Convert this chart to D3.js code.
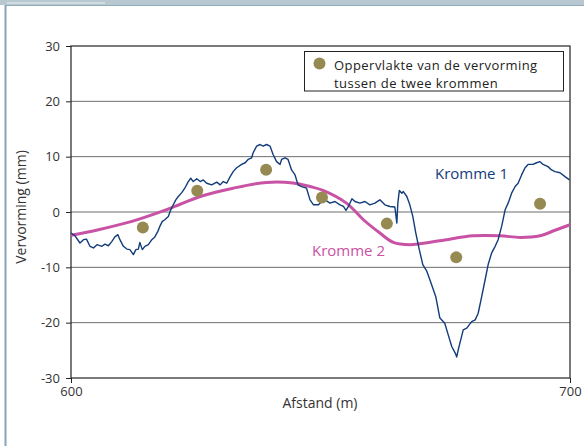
<!DOCTYPE html>
<html>
<head>
<meta charset="utf-8">
<script src="https://cdnjs.cloudflare.com/ajax/libs/d3/7.8.5/d3.min.js"></script>
<style>
  body { margin: 0; background: #fff; }
  text { font-family: "Open Sans", "Noto Sans", sans-serif; }
</style>
</head>
<body>
<div id="chart"></div>
<script>
// afstand (m) / vervorming (mm)
const kromme1X = [600.0,600.8,601.8,602.5,603.1,603.8,604.5,605.2,606.2,606.8,607.5,608.2,608.8,609.4,609.8,610.5,611.2,611.8,612.5,613.0,613.5,613.8,614.3,614.8,615.5,616.2,616.8,617.4,617.8,618.3,618.8,619.5,620.0,620.5,621.0,621.5,622.2,622.8,623.5,624.0,624.5,625.2,625.9,626.5,627.2,628.2,629.2,629.9,630.5,631.2,631.9,632.5,633.2,634.2,634.9,635.5,636.2,636.5,637.2,637.9,638.5,639.2,639.9,640.5,641.2,641.9,642.2,642.9,643.5,644.2,644.9,645.5,646.2,647.2,647.9,648.6,649.6,649.9,650.9,651.9,652.9,653.9,654.6,655.1,655.6,656.3,656.9,657.9,658.9,659.9,660.9,661.9,662.9,663.9,664.9,665.3,665.5,665.8,666.3,666.6,667.3,667.9,668.5,669.1,669.8,670.5,671.3,671.9,672.6,673.1,673.9,674.9,675.6,676.3,677.0,677.3,677.6,678.1,678.6,679.3,680.3,681.0,681.6,682.3,683.0,683.6,684.3,685.0,685.6,686.3,687.0,687.6,688.3,689.0,689.6,690.3,691.0,691.6,692.6,693.3,694.0,694.6,695.6,696.3,697.0,698.0,699.0,699.9];
const kromme1Y = [-3.8,-4.3,-5.6,-5.0,-4.9,-6.2,-6.5,-5.9,-6.2,-5.8,-6.1,-5.3,-4.5,-4.1,-5.0,-6.2,-6.7,-6.8,-7.7,-6.8,-6.7,-5.5,-6.8,-6.2,-5.9,-5.0,-4.5,-3.5,-2.6,-1.7,-1.4,-0.8,0.4,1.3,2.2,2.8,3.5,4.3,5.5,6.1,5.5,6.0,5.5,5.8,5.2,4.9,5.4,4.9,5.5,5.2,6.4,7.3,8.0,8.6,8.9,9.5,9.8,10.7,11.9,12.2,11.9,12.2,11.9,10.4,9.1,8.6,9.5,9.8,9.5,7.6,6.7,4.9,4.6,4.3,2.2,1.3,1.3,1.6,2.2,1.6,1.9,1.3,1.0,0.3,1.0,2.4,1.9,1.6,1.9,1.3,1.6,2.2,1.3,1.0,0.9,-2.0,1.6,3.9,3.4,3.7,2.8,1.3,-0.8,-3.8,-6.8,-9.5,-10.7,-12.2,-14.0,-15.3,-19.1,-20.1,-22.2,-24.3,-25.5,-26.2,-24.9,-23.1,-21.3,-21.0,-19.8,-19.5,-18.3,-15.3,-12.2,-9.5,-7.4,-6.2,-5.0,-2.6,0.4,1.6,3.4,4.6,5.2,6.7,8.0,8.6,8.6,8.9,9.1,8.6,8.2,7.6,7.3,7.1,6.4,5.8];

const kromme2X = [600.0,605.5,612.2,618.2,620.8,625.9,632.5,639.2,644.5,647.9,650.5,655.2,658.6,661.9,664.6,667.9,673.9,680.6,686.0,690.0,694.0,697.0,700.0];
const kromme2Y = [-4.2,-3.2,-1.7,0.1,1.0,2.8,4.3,5.35,5.25,4.6,3.9,1.6,-1.4,-3.8,-5.5,-5.9,-5.2,-4.3,-4.3,-4.6,-4.3,-3.3,-2.3];

const oppervlakX = [614.4,625.3,639.1,650.3,663.3,677.2,694.0];
const oppervlakY = [-2.8,3.85,7.65,2.6,-2.1,-8.2,1.5];

const yTicks = [-30,-20,-10,0,10,20,30];
const xTicks = [600,700];

const width = 584, height = 446;
const navy = "#123c7a", magenta = "#c852a3", olive = "#968a52";

const svg = d3.select("#chart").append("svg")
    .attr("width", width)
    .attr("height", height);

// panel frame
svg.append("rect").attr("x", 0).attr("y", 0).attr("width", width).attr("height", 5).attr("fill", "#b8c8d0");
svg.append("rect").attr("x", 7).attr("y", 2.5).attr("width", 98).attr("height", 1).attr("fill", "#e6edf0");
svg.append("line").attr("x1", 5).attr("x2", width).attr("y1", 5.5).attr("y2", 5.5).attr("stroke", "#8eaab6").attr("stroke-width", 1);
svg.append("line").attr("x1", 5.5).attr("x2", 5.5).attr("y1", 5).attr("y2", height).attr("stroke", "#86a6b5").attr("stroke-width", 2);

const x = d3.scaleLinear().domain([600, 700]).range([71, 570]);
const y = d3.scaleLinear().domain([-30, 30]).range([378, 46]);

// grid
svg.append("g").selectAll("line")
  .data(yTicks.filter(d => d > -30 && d < 30))
  .join("line")
    .attr("x1", x(600)).attr("x2", x(700))
    .attr("y1", d => y(d)).attr("y2", d => y(d))
    .attr("stroke", "#6e6e6e").attr("stroke-width", 1);

// frame
svg.append("rect")
    .attr("x", x(600)).attr("y", y(30))
    .attr("width", x(700) - x(600)).attr("height", y(-30) - y(30))
    .attr("fill", "none").attr("stroke", "#222").attr("stroke-width", 1.2);

const yAxis = d3.axisLeft(y).tickValues(yTicks).tickFormat(d => String(d)).tickSize(5).tickPadding(6).tickSizeOuter(0);
const gy = svg.append("g").attr("transform", `translate(${x(600)},0)`).call(yAxis);
gy.select(".domain").remove();
gy.selectAll("text").attr("font-size", 13).attr("fill", "#333").attr("font-family", "Open Sans");
gy.selectAll("line").attr("stroke", "#222");

const xAxis = d3.axisBottom(x).tickValues(xTicks).tickFormat(d => String(d)).tickSize(5).tickPadding(4).tickSizeOuter(0);
const gx = svg.append("g").attr("transform", `translate(0,${y(-30)})`).call(xAxis);
gx.select(".domain").remove();
gx.selectAll("text").attr("font-size", 13).attr("fill", "#333").attr("font-family", "Open Sans");
gx.selectAll("line").attr("stroke", "#222");

// axis titles
svg.append("text")
    .attr("x", 320).attr("y", 408)
    .attr("text-anchor", "middle").attr("font-size", 14).attr("fill", "#333")
    .text("Afstand (m)");
svg.append("text")
    .attr("transform", "translate(26,207) rotate(-90)")
    .attr("text-anchor", "middle").attr("font-size", 14).attr("fill", "#333")
    .text("Vervorming (mm)");

// curves
const k2 = kromme2X.map((d, i) => [d, kromme2Y[i]]);
svg.append("path")
    .datum(k2)
    .attr("fill", "none").attr("stroke", magenta).attr("stroke-width", 3)
    .attr("d", d3.line().x(d => x(d[0])).y(d => y(d[1])).curve(d3.curveCatmullRom.alpha(0.5)));

const k1 = kromme1X.map((d, i) => [d, kromme1Y[i]]);
svg.append("path")
    .datum(k1)
    .attr("fill", "none").attr("stroke", navy).attr("stroke-width", 1.4)
    .attr("stroke-linejoin", "round")
    .attr("d", d3.line().x(d => x(d[0])).y(d => y(d[1])));

svg.append("g").selectAll("circle")
  .data(oppervlakX.map((d, i) => [d, oppervlakY[i]]))
  .join("circle")
    .attr("cx", d => x(d[0])).attr("cy", d => y(d[1]))
    .attr("r", 6).attr("fill", olive);

// curve labels
svg.append("text").attr("x", 435).attr("y", 179).attr("font-size", 15).attr("fill", navy).text("Kromme 1");
svg.append("text").attr("x", 312).attr("y", 256).attr("font-size", 15).attr("fill", magenta).text("Kromme 2");

// legend
svg.append("rect")
    .attr("x", 304.5).attr("y", 51.5).attr("width", 259).attr("height", 39.5)
    .attr("fill", "#fff").attr("stroke", "#222").attr("stroke-width", 1);
svg.append("circle").attr("cx", 319.5).attr("cy", 63.5).attr("r", 6).attr("fill", olive);
svg.append("text").attr("x", 334).attr("y", 69.5).attr("font-size", 13).attr("letter-spacing", 0.45).attr("fill", "#222")
    .text("Oppervlakte van de vervorming");
svg.append("text").attr("x", 334).attr("y", 87.5).attr("font-size", 13).attr("letter-spacing", 0.45).attr("fill", "#222")
    .text("tussen de twee krommen");
</script>
</body>
</html>
